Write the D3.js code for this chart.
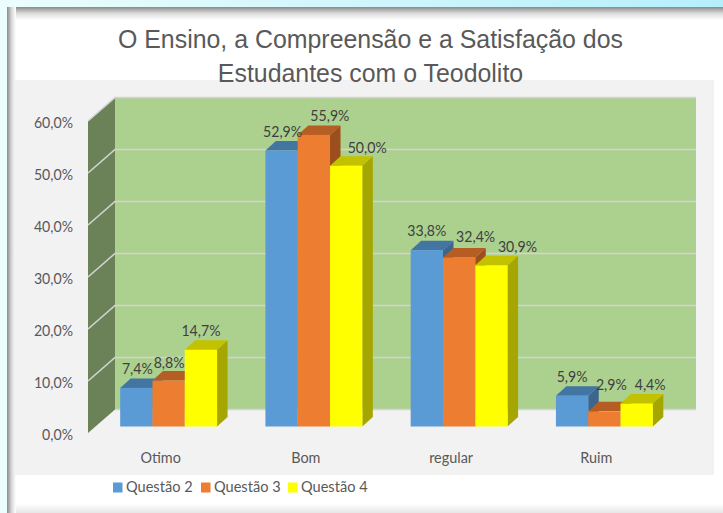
<!DOCTYPE html>
<html>
<head>
<meta charset="utf-8">
<script src="https://cdn.jsdelivr.net/npm/d3@7"></script>
<style>
    html, body { margin: 0; padding: 0; background: #fff; }
    svg { display: block; }
</style>
</head>
<body>
<svg id="chart" width="723" height="513"></svg>
<script>
var categories = [ "Otimo", "Bom", "regular", "Ruim" ];
var seriesNames = [ "Questão 2", "Questão 3", "Questão 4" ];
var questao2 = [ 7.4, 52.9, 33.8, 5.9 ];
var questao3 = [ 8.8, 55.9, 32.4, 2.9 ];
var questao4 = [ 14.7, 50.0, 30.9, 4.4 ];
var yTicks = [ 0, 10, 20, 30, 40, 50, 60 ];

var values = [ questao2, questao3, questao4 ];
var front = [ "#5b9bd5", "#ed7d31", "#ffff00" ];
var top3d = [ "#4375a3", "#b55d22", "#c2c200" ];
var side = [ "#3a668f", "#9c4f1c", "#a6a600" ];

var textColor = "#595959";
var labelFont = "15.5px Lato, sans-serif";
var fmt = function ( v ) { return v.toFixed( 1 ).replace( ".", "," ) + "%" };
var svg = d3.select( "#chart" );
var defs = svg.append( "defs" );

// the original font is narrower than Lato, so squeeze the glyphs a little
function squeeze( sel, k ) {
    sel.attr( "lengthAdjust", "spacingAndGlyphs" )
        .attr( "textLength", function () { return this.getComputedTextLength() * k } );
}

function gradient( id, horizontal, stops ) {
    var g = defs.append( "linearGradient" ).attr( "id", id )
        .attr( "x2", horizontal ? 1 : 0 ).attr( "y2", horizontal ? 0 : 1 );
    stops.forEach( function ( s ) {
        g.append( "stop" ).attr( "offset", s[ 0 ] ).attr( "stop-color", s[ 1 ] );
    } );
}
gradient( "sky", true, [ [ 0, "#ecfdfd" ], [ 1, "#b5effb" ] ] );
gradient( "shadeTop", false, [ [ 0, "#8a8a8a" ], [ 0.5, "#dcdcdc" ], [ 1, "#ffffff" ] ] );
gradient( "shadeLeft", true, [ [ 0, "#8a8a8a" ], [ 0.5, "#d6d6d6" ], [ 1, "#ffffff" ] ] );
gradient( "shadeBottom", false, [ [ 0, "#ffffff" ], [ 1, "#e6e6e6" ] ] );

// page background + the slide frame around the chart
svg.append( "rect" ).attr( "width", 723 ).attr( "height", 7 ).attr( "fill", "url(#sky)" );
svg.append( "rect" ).attr( "y", 7 ).attr( "width", 7 ).attr( "height", 506 ).attr( "fill", "#ecfdfd" );
svg.append( "rect" ).attr( "x", 7 ).attr( "y", 504 ).attr( "width", 716 ).attr( "height", 9 ).attr( "fill", "url(#shadeBottom)" );
svg.append( "rect" ).attr( "x", 7 ).attr( "y", 7 ).attr( "width", 716 ).attr( "height", 13 ).attr( "fill", "url(#shadeTop)" );
svg.append( "rect" ).attr( "x", 7 ).attr( "y", 7 ).attr( "width", 9 ).attr( "height", 506 ).attr( "fill", "url(#shadeLeft)" );

// grey plot panel
svg.append( "rect" ).attr( "x", 15 ).attr( "y", 80 ).attr( "width", 699 ).attr( "height", 395 ).attr( "fill", "#f2f2f2" );

svg.append( "text" ).attr( "text-anchor", "middle" )
    .style( "font", "24.9px 'Liberation Sans', sans-serif" ).style( "fill", textColor )
    .selectAll( "tspan" ).data( [ "O Ensino, a Compreensão e a Satisfação dos", "Estudantes com o Teodolito" ] )
    .enter().append( "tspan" )
    .attr( "x", 370.5 ).attr( "y", function ( d, i ) { return 48 + i * 34 } )
    .text( function ( d ) { return d } );

// scales work on the front plane, depth is a fixed offset towards the back wall
var x = d3.scaleBand().domain( categories ).range( [ 88, 669 ] );
var yFront = d3.scaleLinear().domain( [ 0, 60 ] ).range( [ 433, 121 ] );
var wallDx = 27, wallDy = -23.5;

// back wall
svg.append( "rect" )
    .attr( "x", 88 + wallDx ).attr( "y", yFront( 60 ) + wallDy )
    .attr( "width", 581 ).attr( "height", yFront( 0 ) - yFront( 60 ) )
    .attr( "fill", "#acd08e" );

// left wall
svg.append( "path" )
    .attr( "d", d3.line()( [
        [ 88, yFront( 0 ) ], [ 88, yFront( 60 ) ],
        [ 88 + wallDx, yFront( 60 ) + wallDy ], [ 88 + wallDx, yFront( 0 ) + wallDy ]
    ] ) + "Z" )
    .attr( "fill", "#6b8259" );

// gridlines run along the left wall and the back wall
var grid = svg.append( "g" );
yTicks.forEach( function ( t ) {
    var pts = [ [ 88 + wallDx, yFront( t ) + wallDy ], [ 88 + wallDx + 581, yFront( t ) + wallDy ] ];
    if ( t > 0 ) pts.unshift( [ 88, yFront( t ) ] );
    grid.append( "path" )
        .attr( "d", d3.line()( pts ) )
        .attr( "fill", "none" ).attr( "stroke", "#d4d4d4" ).attr( "stroke-width", 1.6 );
} );

// tick labels
svg.append( "g" ).selectAll( "text" ).data( yTicks ).enter().append( "text" )
    .attr( "x", 73 ).attr( "y", function ( d ) { return yFront( d ) + 6.5 } )
    .attr( "text-anchor", "end" )
    .style( "font", labelFont ).style( "fill", textColor )
    .text( function ( d ) { return fmt( d ) } )
    .call( squeeze, 0.91 );

svg.append( "g" ).selectAll( "text" ).data( categories ).enter().append( "text" )
    .attr( "x", function ( d ) { return x( d ) + x.bandwidth() / 2 } ).attr( "y", 462.5 )
    .attr( "text-anchor", "middle" )
    .style( "font", labelFont ).style( "fill", textColor )
    .text( function ( d ) { return d } )
    .call( squeeze, 0.93 );

// bars, in the front plane offset a bit from the wall
var barW = 32.3, barDx = 10.5, barDy = -9.5;
var barY = d3.scaleLinear().domain( [ 0, 60 ] ).range( [ 426.5, 113.5 ] );

// the labels were nudged by hand in the original, so they get nudged here too
var labelDx = [ [ 1, 0.5, 0 ], [ 1, 16, 21 ], [ 0, 16.5, 26 ], [ 0, 7, 13.5 ] ];
var labelDy = [ [ -4.4, -3, -4 ], [ -4, -4, -3 ], [ -4.7, -6, -4 ], [ -4, -12, -4 ] ];

categories.forEach( function ( c, ci ) {
    var x0 = x( c ) + x.bandwidth() / 2 + 8 - barW * 1.5;
    var g = svg.append( "g" ).attr( "data-cat", c );
    // later bars paint over the side faces of the earlier ones
    values.forEach( function ( vals, si ) {
        var v = vals[ ci ], l = x0 + si * barW, r = l + barW, t = barY( v ), b = barY( 0 );
        g.append( "path" )
            .attr( "d", d3.line()( [ [ r, t ], [ r + barDx, t + barDy ], [ r + barDx, b + barDy ], [ r, b ] ] ) + "Z" )
            .attr( "fill", side[ si ] );
        g.append( "path" )
            .attr( "d", d3.line()( [ [ l, t ], [ l + barDx, t + barDy ], [ r + barDx, t + barDy ], [ r, t ] ] ) + "Z" )
            .attr( "fill", top3d[ si ] );
        g.append( "rect" )
            .attr( "x", l ).attr( "y", t ).attr( "width", barW ).attr( "height", b - t )
            .attr( "fill", front[ si ] );
    } );
    values.forEach( function ( vals, si ) {
        g.append( "text" )
            .attr( "x", x0 + si * barW + barW / 2 + labelDx[ ci ][ si ] )
            .attr( "y", barY( vals[ ci ] ) + barDy + labelDy[ ci ][ si ] )
            .attr( "text-anchor", "middle" )
            .style( "font", labelFont ).style( "fill", "#404040" )
            .text( fmt( vals[ ci ] ) )
            .call( squeeze, 0.91 );
    } );
} );

// legend
var legendX = [ 113, 201, 288 ];
var legend = svg.append( "g" ).selectAll( "g" ).data( seriesNames ).enter().append( "g" )
    .attr( "transform", function ( d, i ) { return "translate(" + legendX[ i ] + ",482.5)" } );
legend.append( "rect" ).attr( "width", 9.5 ).attr( "height", 10 )
    .attr( "fill", function ( d, i ) { return front[ i ] } );
legend.append( "text" ).attr( "x", 13 ).attr( "y", 9.5 )
    .style( "font", labelFont ).style( "fill", textColor )
    .text( function ( d ) { return d } )
    .call( squeeze, 0.94 );
</script>
</body>
</html>
